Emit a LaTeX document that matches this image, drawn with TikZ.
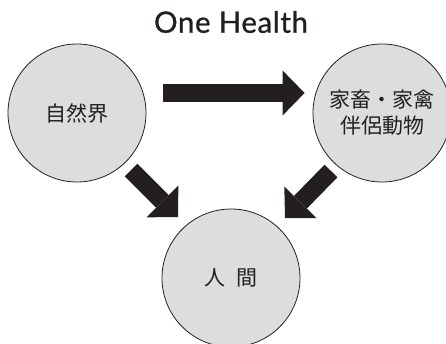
\documentclass[tikz,border=0pt]{standalone}
\usepackage{fontspec}
\setmainfont{Lato}[FakeBold=0.8,LetterSpace=2]
\newfontfamily\jp{Noto Sans CJK JP}
\usetikzlibrary{arrows.meta}
\definecolor{fillgray}{HTML}{DCDDDE}
\definecolor{ink}{HTML}{231F20}
\begin{document}
\begin{tikzpicture}[x=1pt,y=-1pt,
  bubble/.style={circle, draw=ink, line width=0.8pt, fill=fillgray, minimum size=138pt, inner sep=0pt, text=ink, font=\jp\fontsize{21pt}{26pt}\selectfont, align=center},
  blockarrow/.style={draw=ink, line width=18pt, -{Triangle[length=22pt,width=45pt,line width=0pt,fill=ink]}}
]
\path[use as bounding box, clip] (0,0) rectangle (446,343);
\node[text=ink, font=\fontsize{29.5pt}{32pt}\selectfont] (title) at (231,22) {One Health};
\node[bubble] (nature) at (77,113) {自然界};
\node[bubble] (animals) at (382,113) {家畜・家禽\\伴侶動物};
\node[bubble] (human) at (231,278) {人\hspace{11pt}間};
\coordinate (h1) at ([yshift=20pt]nature.east);
\coordinate (h2) at ([yshift=20pt]animals.west);
\draw[blockarrow, shorten <=17pt, shorten >=8pt] (h1) -- (h2);
\coordinate (l1) at (131,170);
\coordinate (l2) at (178,217);
\draw[blockarrow] (l1) -- (l2);
\coordinate (r1) at (331,171);
\coordinate (r2) at (285,218);
\draw[blockarrow] (r1) -- (r2);
\end{tikzpicture}
\end{document}
